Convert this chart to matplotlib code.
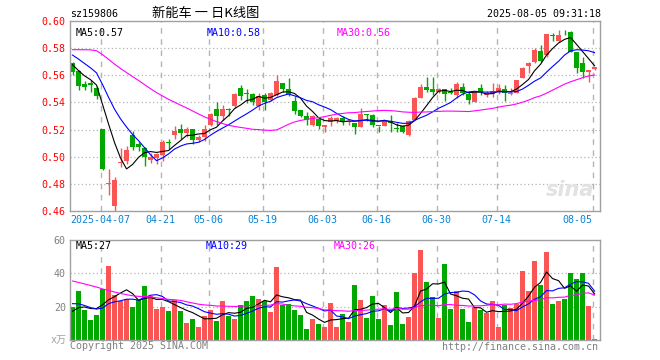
import numpy as np
import pandas as pd
import matplotlib
matplotlib.use('Agg')
import matplotlib.pyplot as plt

plt.rcParams['font.family'] = ['DejaVu Sans Mono', 'Noto Sans CJK SC']

# 日K数据 (2025-03-28 ~ 2025-08-05)
open_ = [0.5688, 0.5634, 0.5534, 0.5546, 0.5507, 0.5202, 0.4800, 0.4634, 0.4953, 0.4970,
         0.5158, 0.5097, 0.5066, 0.4976, 0.4993, 0.5012, 0.5105, 0.5158, 0.5205, 0.5176,
         0.5202, 0.5122, 0.5146, 0.5232, 0.5351, 0.5302, 0.5349, 0.5371, 0.5505, 0.5466,
         0.5463, 0.5371, 0.5456, 0.5419, 0.5456, 0.5546, 0.5498, 0.5407, 0.5341, 0.5302,
         0.5236, 0.5278, 0.5217, 0.5253, 0.5261, 0.5285, 0.5254, 0.5251, 0.5217, 0.5314,
         0.5310, 0.5229, 0.5224, 0.5256, 0.5214, 0.5229, 0.5163, 0.5273, 0.5432, 0.5517,
         0.5498, 0.5478, 0.5498, 0.5475, 0.5456, 0.5512, 0.5459, 0.5400, 0.5504, 0.5454,
         0.5462, 0.5486, 0.5499, 0.5462, 0.5467, 0.5583, 0.5671, 0.5696, 0.5780, 0.5746,
         0.5896, 0.5854, 0.5925, 0.5919, 0.5775, 0.5694, 0.5622, 0.5644]
high = [0.5695, 0.5639, 0.5561, 0.5566, 0.5524, 0.5202, 0.4907, 0.4853, 0.5061, 0.5078,
        0.5190, 0.5110, 0.5073, 0.5024, 0.5031, 0.5122, 0.5127, 0.5224, 0.5239, 0.5219,
        0.5202, 0.5163, 0.5236, 0.5322, 0.5400, 0.5383, 0.5358, 0.5468, 0.5529, 0.5498,
        0.5468, 0.5473, 0.5468, 0.5480, 0.5602, 0.5546, 0.5578, 0.5444, 0.5346, 0.5327,
        0.5310, 0.5278, 0.5231, 0.5302, 0.5290, 0.5297, 0.5270, 0.5251, 0.5356, 0.5317,
        0.5317, 0.5229, 0.5273, 0.5307, 0.5249, 0.5236, 0.5268, 0.5439, 0.5537, 0.5585,
        0.5585, 0.5505, 0.5498, 0.5505, 0.5554, 0.5541, 0.5479, 0.5484, 0.5533, 0.5484,
        0.5541, 0.5533, 0.5528, 0.5509, 0.5565, 0.5664, 0.5696, 0.5800, 0.5820, 0.5904,
        0.5911, 0.5936, 0.5936, 0.5924, 0.5775, 0.5738, 0.5639, 0.5664]
low = [0.5602, 0.5488, 0.5488, 0.5476, 0.5424, 0.4905, 0.4716, 0.4590, 0.4921, 0.4946,
       0.5049, 0.5044, 0.4931, 0.4951, 0.4946, 0.4970, 0.5056, 0.5134, 0.5134, 0.5146,
       0.5097, 0.5110, 0.5114, 0.5224, 0.5236, 0.5273, 0.5297, 0.5358, 0.5419, 0.5395,
       0.5383, 0.5346, 0.5346, 0.5407, 0.5449, 0.5480, 0.5444, 0.5317, 0.5292, 0.5236,
       0.5224, 0.5205, 0.5180, 0.5224, 0.5251, 0.5236, 0.5236, 0.5166, 0.5217, 0.5266,
       0.5219, 0.5183, 0.5224, 0.5185, 0.5183, 0.5175, 0.5151, 0.5268, 0.5429, 0.5480,
       0.5456, 0.5466, 0.5407, 0.5461, 0.5432, 0.5456, 0.5392, 0.5400, 0.5454, 0.5442,
       0.5442, 0.5462, 0.5410, 0.5454, 0.5467, 0.5578, 0.5615, 0.5689, 0.5701, 0.5738,
       0.5854, 0.5844, 0.5894, 0.5770, 0.5615, 0.5583, 0.5553, 0.5639]
close = [0.5622, 0.5524, 0.5515, 0.5529, 0.5451, 0.4909, 0.4805, 0.4829, 0.4958, 0.5049,
         0.5073, 0.5068, 0.5000, 0.5000, 0.5017, 0.5110, 0.5100, 0.5190, 0.5176, 0.5205,
         0.5122, 0.5146, 0.5205, 0.5317, 0.5297, 0.5351, 0.5344, 0.5463, 0.5449, 0.5461,
         0.5400, 0.5449, 0.5400, 0.5473, 0.5561, 0.5498, 0.5463, 0.5334, 0.5302, 0.5268,
         0.5302, 0.5229, 0.5231, 0.5285, 0.5285, 0.5256, 0.5258, 0.5222, 0.5315, 0.5310,
         0.5231, 0.5227, 0.5261, 0.5251, 0.5205, 0.5180, 0.5261, 0.5432, 0.5517, 0.5488,
         0.5478, 0.5498, 0.5463, 0.5473, 0.5537, 0.5468, 0.5417, 0.5484, 0.5474, 0.5467,
         0.5484, 0.5509, 0.5467, 0.5467, 0.5565, 0.5652, 0.5694, 0.5788, 0.5706, 0.5904,
         0.5891, 0.5899, 0.5923, 0.5775, 0.5652, 0.5627, 0.5639, 0.5659]
# 成交量 (万)
volume = [19.6, 29.3, 17.8, 12.3, 15.2, 30.9, 44.4, 27.3, 23.2, 24.8,
          19.6, 24.2, 32.7, 26.3, 18.8, 19.6, 17.6, 23.8, 17.6, 10.5,
          12.7, 8.1, 14.5, 18.2, 11.7, 23.2, 14.5, 12.7, 21.2, 23.2,
          26.3, 24.8, 23.6, 16.6, 43.8, 20.8, 21.8, 18.2, 15.2, 6.9,
          12.7, 9.9, 8.1, 22.4, 8.1, 15.6, 11.1, 33.3, 23.8, 13.5,
          26.3, 12.7, 20.8, 9.1, 28.7, 9.9, 13.9, 40.2, 54.1, 34.7,
          25.7, 13.5, 45.7, 18.4, 29.3, 18.4, 11.1, 20.0, 17.8, 16.0,
          23.2, 8.1, 20.8, 19.0, 21.4, 41.2, 29.3, 47.5, 33.1, 52.9,
          21.4, 23.2, 24.4, 40.5, 36.5, 40.2, 20.3, 0.8]

# 图中区间之前的数据(估计), 只用于均线
hist_close = [0.553, 0.552, 0.556, 0.565, 0.575, 0.585, 0.590, 0.592, 0.594, 0.595,
              0.594, 0.592, 0.590, 0.588, 0.586, 0.584, 0.582, 0.583, 0.581, 0.580,
              0.582, 0.584, 0.585, 0.582, 0.577, 0.574, 0.571, 0.567, 0.5648]
hist_vol = [55, 45, 40, 43, 65, 72, 55, 50, 45, 40, 36, 35, 33, 36, 34, 30, 32, 28, 35, 35,
            30, 28, 25, 24, 25, 18, 16, 17, 15.4]

tick_pos = [5, 15, 23, 32, 42, 51, 61, 71, 87]
tick_labels = ['2025-04-07', '04-21', '05-06', '05-19', '06-03', '06-16', '06-30', '07-14', '08-05']
price_ticks = [0.46, 0.48, 0.50, 0.52, 0.54, 0.56, 0.58, 0.60]
vol_ticks = [20, 40, 60]

n = len(close)
x = np.arange(n)
c_all = pd.Series(hist_close + close)
v_all = pd.Series(hist_vol + volume)
ma = {w: c_all.rolling(w).mean().values[-n:] for w in (5, 10, 30)}
vma = {w: v_all.rolling(w).mean().values[-n:] for w in (5, 10, 30)}

RED = '#fa5555'
GREEN = '#00a800'
FRAME = '#a0a0a0'
GRID = '#b4b4b4'
ma_colors = {5: 'black', 10: 'blue', 30: '#ff00ff'}

o = np.array(open_)
c = np.array(close)
colors = [RED if cc >= oo else GREEN for oo, cc in zip(o, c)]
body_bottom = np.minimum(o, c)
body_h = np.maximum(np.abs(c - o), 0.0006)

fig = plt.figure(figsize=(6.6, 3.6), dpi=100)
ax = fig.add_axes([70 / 660, 149 / 360, 530 / 660, 190 / 360])
axv = fig.add_axes([70 / 660, 20 / 360, 530 / 660, 100 / 360])

xlim = (-0.42, 87.91)
grid_x = [p - 0.3 for p in tick_pos]

# K线
ax.vlines(x, low, high, colors=colors, linewidth=1)
ax.bar(x, body_h, bottom=body_bottom, width=0.83, color=colors, linewidth=0)
for w in (5, 10, 30):
    ax.plot(x, ma[w], color=ma_colors[w], lw=0.8)

ax.set_xlim(*xlim)
ax.set_ylim(0.46, 0.60)
ax.set_yticks(price_ticks)
ax.set_yticklabels(['%.2f' % p for p in price_ticks], color='red', fontsize=7.2)
ax.set_xticks(grid_x)
ax.set_xticklabels(tick_labels, color='#0a84d6', fontsize=7.2)
ax.get_xticklabels()[-1].set_horizontalalignment('right')
ax.tick_params(length=0, pad=3)
for p in price_ticks[1:-1]:
    ax.axhline(p, color=GRID, lw=0.9, ls=(0, (1, 2)), zorder=0)
for gx in grid_x:
    ax.axvline(gx, color=GRID, lw=1, ls=(0, (4, 4)), zorder=0)
ax.text(0.01, 0.935, 'MA5:0.57', transform=ax.transAxes, color='black', fontsize=7.2, va='center')
ax.text(0.257, 0.935, 'MA10:0.58', transform=ax.transAxes, color='blue', fontsize=7.2, va='center')
ax.text(0.504, 0.935, 'MA30:0.56', transform=ax.transAxes, color='#ff00ff', fontsize=7.2, va='center')
ax.text(0.99, 0.06, 'sina', transform=ax.transAxes, color='#e2e2e2', fontsize=15,
        fontstyle='italic', fontweight='bold', family='DejaVu Sans', ha='right', va='bottom', zorder=0)

# 成交量
axv.bar(x, volume, width=0.83, color=colors, linewidth=0)
for w in (5, 10, 30):
    axv.plot(x, vma[w], color=ma_colors[w], lw=0.8)
axv.set_xlim(*xlim)
axv.set_ylim(0, 60)
axv.set_yticks(vol_ticks)
axv.set_yticklabels([str(v) for v in vol_ticks], color='#808080', fontsize=7.2)
axv.set_xticks([])
axv.tick_params(length=0, pad=3)
for v in vol_ticks[:-1]:
    axv.axhline(v, color=GRID, lw=0.9, ls=(0, (1, 2)), zorder=0)
for gx in grid_x:
    axv.axvline(gx, color=GRID, lw=1, ls=(0, (4, 4)), zorder=0)
axv.text(0.01, 0.94, 'MA5:27', transform=axv.transAxes, color='black', fontsize=7.2, va='center')
axv.text(0.255, 0.94, 'MA10:29', transform=axv.transAxes, color='blue', fontsize=7.2, va='center')
axv.text(0.498, 0.94, 'MA30:26', transform=axv.transAxes, color='#ff00ff', fontsize=7.2, va='center')
axv.text(-0.006, 0.0, 'x万', transform=axv.transAxes, color='#a0a0a0', fontsize=7.2,
         ha='right', va='center')

for a in (ax, axv):
    for s in a.spines.values():
        s.set_color(FRAME)
        s.set_linewidth(1)

fig.text(70 / 660, 1 - 14 / 360, 'sz159806', fontsize=7.2, va='center', ha='left')
fig.text(206 / 660, 1 - 14 / 360, '新能车 一 日K线图', fontsize=9.5, va='center', ha='center',
         family=['Noto Sans CJK SC', 'DejaVu Sans'])
fig.text(601 / 660, 1 - 14 / 360, '2025-08-05 09:31:18', fontsize=7.2, va='center', ha='right')
fig.text(70 / 660, 1 - 346 / 360, 'Copyright 2025 SINA.COM', fontsize=7.2, color='#808080',
         va='center', ha='left')
fig.text(598 / 660, 1 - 347 / 360, 'http://finance.sina.com.cn', fontsize=7.2, color='#808080',
         va='center', ha='right')

fig.savefig('out.png', dpi=100)
